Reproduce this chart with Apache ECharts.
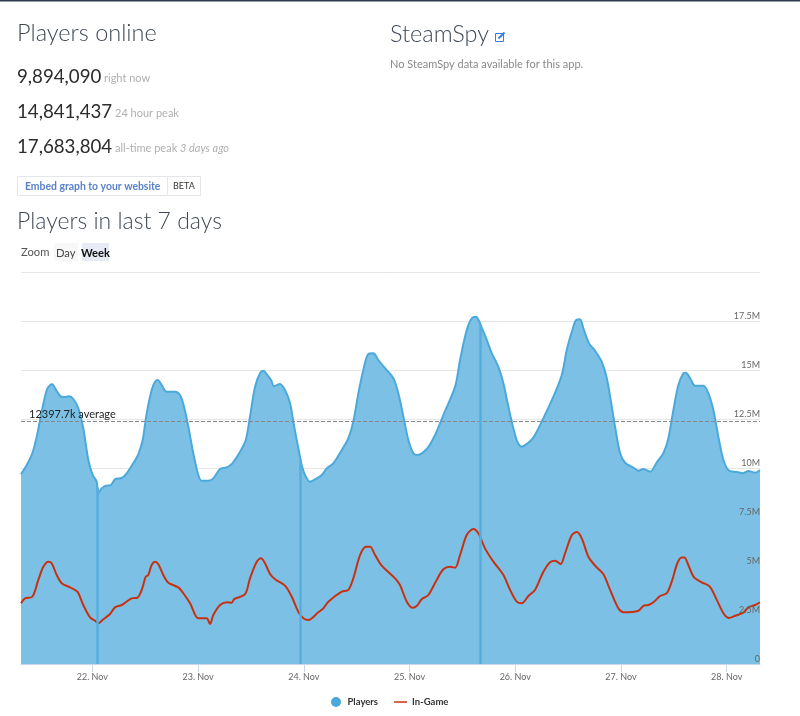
<!DOCTYPE html>
<html>
<head>
<meta charset="utf-8">
<title>Players in last 7 days</title>
<script src="https://cdn.jsdelivr.net/npm/echarts@6/dist/echarts.min.js"></script>
<style>
html,body{margin:0;padding:0;background:#fff;}
#main{width:800px;height:716px;}
</style>
</head>
<body>
<div id="main"></div>
<script>
// day of november, players in millions
var playerDays = [21.325,21.379,21.432,21.474,21.521,21.568,21.599,21.621,21.653,21.694,21.725,21.779,21.820,21.867,21.914,21.962,22.003,22.041,22.056,22.088,22.129,22.174,22.214,22.278,22.325,22.387,22.435,22.476,22.514,22.561,22.593,22.618,22.656,22.703,22.782,22.829,22.867,22.908,22.955,23.002,23.034,23.097,23.144,23.208,23.271,23.324,23.397,23.451,23.491,23.539,23.586,23.617,23.655,23.690,23.718,23.775,23.822,23.870,23.901,23.933,23.964,23.980,24.012,24.059,24.106,24.170,24.217,24.279,24.359,24.421,24.468,24.516,24.563,24.610,24.658,24.705,24.768,24.847,24.894,24.942,24.989,25.036,25.068,25.163,25.241,25.320,25.431,25.478,25.541,25.589,25.629,25.661,25.677,25.731,25.778,25.840,25.888,25.935,25.982,26.020,26.062,26.124,26.171,26.235,26.361,26.440,26.487,26.535,26.575,26.613,26.644,26.698,26.755,26.818,26.866,26.913,26.944,26.992,27.039,27.117,27.165,27.212,27.275,27.339,27.401,27.448,27.496,27.543,27.590,27.613,27.654,27.701,27.780,27.827,27.874,27.921,27.969,28.026,28.096,28.152,28.205,28.269,28.315];
var playerValues = [9.68,10.15,10.75,11.6,12.87,13.98,14.23,14.27,14.01,13.69,13.62,13.66,13.52,13.05,12.03,10.41,9.64,9.3,8.71,8.96,9.1,9.13,9.42,9.49,9.73,10.24,10.71,11.43,12.79,13.98,14.4,14.49,14.23,13.89,13.89,13.72,13.13,12.11,10.75,9.64,9.35,9.35,9.47,9.95,10.03,10.24,10.83,11.43,12.62,14.15,14.83,14.96,14.74,14.49,14.18,14.29,13.98,13.3,12.36,11.43,10.58,10.15,9.64,9.3,9.42,9.64,9.98,10.24,10.92,11.51,12.36,13.81,15,15.82,15.85,15.51,15.09,14.58,13.81,12.62,11.43,10.75,10.66,10.97,11.68,12.7,14.15,15.51,17.04,17.64,17.72,17.46,17.24,16.53,15.85,15.17,14.32,13.13,12.03,11.34,11.09,11.29,11.55,12.19,13.64,14.74,16.02,16.95,17.55,17.59,17.13,16.36,15.98,15.42,14.58,13.13,12.11,10.75,10.27,10.02,9.86,9.95,9.81,10.29,10.75,11.51,12.96,14.23,14.83,14.86,14.58,14.2,14.2,13.81,12.96,11.6,10.41,9.85,9.8,9.73,9.85,9.76,9.9];
// the three moments the count fell to zero
var dropDays = [22.045, 23.968, 25.669];
var dropTops = [9.0, 10.4, 17.35];
var inGameDays = [21.325,21.363,21.432,21.489,21.536,21.583,21.615,21.663,21.710,21.789,21.858,21.914,21.978,22.025,22.056,22.104,22.167,22.214,22.278,22.372,22.425,22.467,22.504,22.529,22.561,22.593,22.624,22.671,22.718,22.813,22.860,22.924,23.002,23.081,23.113,23.144,23.208,23.277,23.318,23.343,23.444,23.491,23.555,23.595,23.633,23.681,23.728,23.822,23.886,23.948,23.996,24.043,24.137,24.185,24.232,24.359,24.421,24.468,24.532,24.589,24.627,24.674,24.737,24.863,24.910,24.974,25.030,25.068,25.115,25.178,25.257,25.320,25.383,25.431,25.478,25.541,25.604,25.651,25.714,25.793,25.888,25.951,26.014,26.062,26.124,26.187,26.266,26.329,26.377,26.430,26.471,26.535,26.582,26.629,26.692,26.755,26.834,26.897,26.975,27.023,27.165,27.212,27.259,27.307,27.370,27.433,27.480,27.533,27.575,27.600,27.637,27.691,27.764,27.842,27.906,27.975,28.022,28.079,28.158,28.205,28.269,28.315];
var inGameValues = [3.1,3.35,3.43,4.29,4.96,5.22,5.14,4.54,4.12,3.91,3.69,3.01,2.38,2.21,2.08,2.28,2.55,2.89,3.01,3.35,3.38,3.78,4.45,4.54,5.05,5.22,5.09,4.54,4.15,3.91,3.61,3.1,2.33,2.33,2.04,2.5,3.01,3.15,3.13,3.32,3.56,4.37,5.22,5.39,5.14,4.59,4.32,4.0,3.43,2.67,2.33,2.24,2.64,2.84,3.18,3.69,3.78,4.37,5.56,5.98,5.98,5.56,5.02,4.37,4.03,3.18,2.87,2.96,3.3,3.52,4.29,4.83,4.96,4.91,5.56,6.58,6.89,6.67,5.9,5.22,4.54,3.78,3.18,3.1,3.47,3.78,4.71,5.19,5.27,5.1,5.65,6.58,6.73,6.41,5.47,5.02,4.58,3.78,2.84,2.64,2.72,2.97,3.01,3.15,3.47,3.61,4.2,5.14,5.44,5.44,5.05,4.42,4.17,3.94,3.27,2.54,2.35,2.46,2.62,2.89,3.01,3.15];
var averagePlayers = 12.3977;
var firstDay = 21.325;
var lastDay = 28.315;
var seriesNames = ['Players', 'In-Game'];

function toTime(day){
	return Date.UTC(2017, 10, 0) + day * 86400000 + new Date(2017, 10, 20).getTimezoneOffset() * 60000;
}

function toPoints(days, values){
	return days.map(function (d, i) { return [toTime(d), values[i]]; });
}

function headerText(x, y, text, size, color, weight, style){
	return {
		type: 'text', x: x, y: y, silent: true,
		style: {
			text: text, fill: color,
			font: (style || 'normal') + ' ' + (weight || 400) + ' ' + size + 'px Lato, sans-serif'
		}
	};
}

function box(x, y, w, h, fill, stroke){
	return { type: 'rect', silent: true, shape: { x: x, y: y, width: w, height: h }, style: { fill: fill, stroke: stroke || null } };
}

// average line plus the vertical drops
var playerMarks = [{ yAxis: averagePlayers }].concat(dropDays.map(function (d, i) {
	return [
		{ coord: [toTime(d), 0], lineStyle: { color: '#55aedc', type: 'solid', width: 2.5 }, label: { show: false } },
		{ coord: [toTime(d), dropTops[i]] }
	];
}));

var myChart = echarts.init(document.getElementById('main'));

var option = {
	animation: false,
	backgroundColor: '#fff',
	textStyle: { fontFamily: 'Lato, sans-serif' },
	graphic: [
		box(0, 0, 800, 1.5, '#2f3a4c'),
		headerText(17, 21, 'Players online', 23.5, '#3f4a56', 300),
		headerText(17, 67, '9,894,090', 18.7, '#2c2c2c'),
		headerText(104, 73, 'right now', 11, '#b0b0b0'),
		headerText(17, 102, '14,841,437', 18.7, '#2c2c2c'),
		headerText(115, 108, '24 hour peak', 11, '#b0b0b0'),
		headerText(17, 137, '17,683,804', 18.7, '#2c2c2c'),
		headerText(115, 143, 'all-time peak', 11, '#b0b0b0'),
		headerText(180, 143, '3 days ago', 11, '#b0b0b0', 400, 'italic'),
		box(17.5, 176.5, 183, 19, '#fff', '#e3e6ea'),
		box(167.5, 176.5, 33, 19, '#fff', '#e3e6ea'),
		headerText(25, 182, 'Embed graph to your website', 10.4, '#5a82c8', 700),
		headerText(173, 182, 'BETA', 9, '#333', 400),
		headerText(17, 210, 'Players in last 7 days', 23, '#3f4a56', 300),
		headerText(21, 247, 'Zoom', 11.2, '#555'),
		box(54, 243, 24, 18, '#f7f7f7'),
		box(82, 243, 27, 18, '#e6ebf5'),
		headerText(56, 248, 'Day', 11.2, '#444'),
		headerText(81, 248, 'Week', 11.2, '#111', 700),
		headerText(390, 22, 'SteamSpy', 23.5, '#3f4a56', 300),
		box(495.5, 33.5, 8, 8, 'none', '#3b7dd8'),
		{ type: 'line', silent: true, shape: { x1: 498.5, y1: 38.5, x2: 504.5, y2: 32.5 }, style: { stroke: '#3b7dd8', lineWidth: 2 } },
		headerText(390, 59, 'No SteamSpy data available for this app.', 11, '#8a8a8a')
	],
	grid: { left: 21, right: 40, top: 272, bottom: 52, containLabel: false },
	legend: {
		top: 692,
		left: 326,
		itemGap: 16,
		itemWidth: 13,
		itemHeight: 10,
		selectedMode: false,
		textStyle: { color: '#333', fontSize: 9.5, fontFamily: 'Lato, sans-serif', fontWeight: 700 },
		data: [
			{ name: seriesNames[0], icon: 'circle' },
			{ name: seriesNames[1], icon: 'path://M0 0L0 0M14 10L14 10M0 4.2L14 4.2L14 5.8L0 5.8Z' }
		]
	},
	xAxis: {
		type: 'time',
		min: toTime(firstDay),
		max: toTime(lastDay),
		minInterval: 86400000,
		maxInterval: 86400000,
		axisLine: { lineStyle: { color: '#ccd6eb' } },
		axisTick: { show: true, length: 8, lineStyle: { color: '#ccd6eb' } },
		splitLine: { show: false },
		axisLabel: {
			color: '#666', fontSize: 9, margin: 9, showMinLabel: false, showMaxLabel: false,
			formatter: function (v) { return new Date(v).getDate() + '. Nov'; }
		}
	},
	yAxis: [
		{
			type: 'value',
			position: 'right',
			min: 0,
			max: 20,
			interval: 2.5,
			axisLine: { show: false },
			axisTick: { show: false },
			axisLabel: { show: false },
			splitLine: { lineStyle: { color: '#e6e6e6' } }
		},
		{
			// labels sit on top of the area, grid lines stay behind it
			type: 'value',
			position: 'right',
			z: 5,
			min: 0,
			max: 20,
			interval: 2.5,
			axisLine: { show: false },
			axisTick: { show: false },
			splitLine: { show: false },
			axisLabel: {
				inside: true, align: 'right', verticalAlign: 'bottom', margin: 0,
				color: '#666', fontSize: 9,
				formatter: function (v) { return v === 0 ? '0' : (v === 20 ? '' : v + 'M'); }
			}
		}
	],
	series: [
		{
			name: seriesNames[0],
			type: 'line',
			symbol: 'none',
			smooth: 0.3,
			z: 1,
			lineStyle: { color: '#4aa9da', width: 2 },
			itemStyle: { color: '#4aa9da' },
			areaStyle: { color: '#7cc1e5', opacity: 1 },
			data: toPoints(playerDays, playerValues),
			markLine: {
				silent: true,
				symbol: 'none',
				lineStyle: { color: '#888', type: 'dashed', width: 1 },
				label: {
					position: 'insideStartTop', distance: [8, 1], color: '#222', fontSize: 11,
					formatter: function () { return (averagePlayers * 1000).toFixed(1) + 'k average'; }
				},
				data: playerMarks
			}
		},
		{
			name: seriesNames[1],
			type: 'line',
			symbol: 'none',
			smooth: 0.3,
			z: 3,
			lineStyle: { color: '#c9300f', width: 2 },
			itemStyle: { color: '#c9300f' },
			data: toPoints(inGameDays, inGameValues)
		}
	]
};

myChart.setOption(option);
</script>
</body>
</html>
